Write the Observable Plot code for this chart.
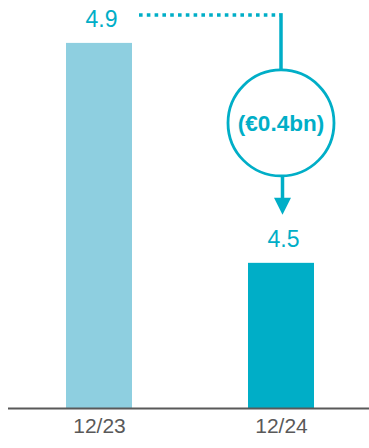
<!DOCTYPE html>
<html><head><meta charset="utf-8">
<script src="https://cdn.jsdelivr.net/npm/d3@7"></script>
<script src="https://cdn.jsdelivr.net/npm/@observablehq/plot@0.6"></script>
<style>
html,body{margin:0;padding:0;background:#fff;}
</style>
</head><body><div id="chart"></div>
<script>
const periods = ["12/23", "12/24"];
const values = [4.9, 4.5];
const valueLabels = ["4.9", "4.5"];
const barColors = ["#8ECFE0", "#00AEC7"];
const changeLabel = "(€0.4bn)";
const yDomain = [4.236, 4.978];

const teal = "#00AEC7";
const grey = "#595959";
const font = "'Liberation Sans', Arial, sans-serif";
const data = periods.map((p, i) => ({period: p, value: values[i], label: valueLabels[i], color: barColors[i]}));

function annotation(index, scales) {
  const sx = scales.x, sy = scales.y;
  const bw = typeof sx.bandwidth === "function" ? sx.bandwidth() : ((scales.scales && scales.scales.x && scales.scales.x.bandwidth) || 0);
  const xa = sx(periods[0]) + bw / 2, xb = sx(periods[1]) + bw / 2;
  const yTop = sy(values[0]) - 28;
  const r = 53;
  const cy = yTop + 108;
  const tip = sy(values[1]) - 48;
  const g = d3.create("svg:g");
  g.append("line").attr("x1", xa + 40).attr("x2", xb - 1).attr("y1", yTop).attr("y2", yTop)
    .attr("stroke", teal).attr("stroke-width", 3.5).attr("stroke-dasharray", "3.6,4.2");
  g.append("line").attr("x1", xb).attr("x2", xb).attr("y1", yTop - 1.75).attr("y2", cy - r)
    .attr("stroke", teal).attr("stroke-width", 3.5);
  g.append("circle").attr("cx", xb).attr("cy", cy).attr("r", r)
    .attr("fill", "white").attr("stroke", teal).attr("stroke-width", 2.8);
  g.append("text").attr("x", xb).attr("y", cy).attr("text-anchor", "middle").attr("dy", "0.35em")
    .attr("fill", teal).attr("font-weight", "bold").attr("font-size", 22.5).attr("font-family", font)
    .text(changeLabel);
  g.append("line").attr("x1", xb + 1.5).attr("x2", xb + 1.5).attr("y1", cy + r).attr("y2", tip - 15)
    .attr("stroke", teal).attr("stroke-width", 3.5);
  g.append("path").attr("d", `M${xb + 1.5 - 8.5},${tip - 17}L${xb + 1.5 + 8.5},${tip - 17}L${xb + 1.5},${tip}Z`)
    .attr("fill", teal);
  return g.node();
}

const chart = Plot.plot({
  width: 369,
  height: 448,
  marginLeft: 8,
  marginRight: 0,
  marginTop: 0,
  marginBottom: 40,
  style: {fontFamily: font, fontSize: "21px", color: grey, background: "white"},
  x: {domain: periods, paddingInner: 0.637, paddingOuter: 0.31, align: 0.513, tickSize: 0, tickPadding: 10, label: null},
  y: {domain: yDomain, axis: null},
  marks: [
    Plot.barY(data, {x: "period", y1: yDomain[0], y2: "value", fill: "color"}),
    Plot.ruleY([yDomain[0]], {stroke: grey, strokeWidth: 2}),
    Plot.text(data, {x: "period", y: "value", text: "label", dy: -16, dx: 2, lineAnchor: "bottom", fontSize: 23, fill: teal}),
    annotation
  ]
});
document.getElementById("chart").appendChild(chart);
</script>
</body></html>
